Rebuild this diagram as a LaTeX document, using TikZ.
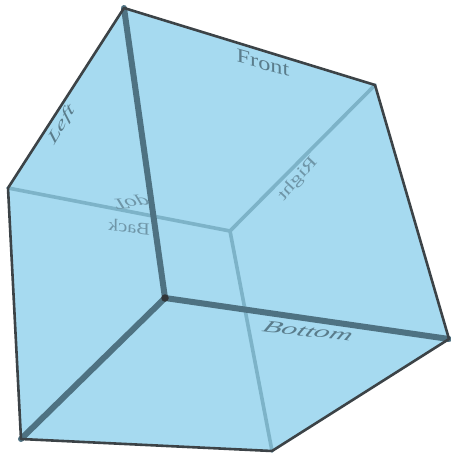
\documentclass[tikz,border=0pt]{standalone}
\usepackage{fontspec}
\setmainfont{Liberation Serif}
\definecolor{cubefill}{HTML}{A6DAF0}
\definecolor{rimcol}{HTML}{3C4347}
\definecolor{frontcol}{HTML}{4E7282}
\definecolor{backcol}{HTML}{7DB3C8}
\definecolor{fronttext}{HTML}{5A7C8B}
\definecolor{backtext}{HTML}{6F96A8}
\tikzset{
  corner/.style={inner sep=0pt,minimum size=0pt},
  rim/.style={draw=rimcol,line width=2.6pt,line cap=round,line join=round},
  frontedge/.style={draw=frontcol,line width=6pt,line cap=round},
  backedge/.style={draw=backcol,line width=3.6pt,line cap=round},
  hub/.style={circle,fill=#1,inner sep=0pt,minimum size=7.5pt},
  facelabel/.style={inner sep=0pt,text=#1,transform shape},
}
\begin{document}
\begin{tikzpicture}[x=1pt,y=-1pt]
\useasboundingbox (0,0) rectangle (450,454);
\coordinate (A) at (124,8);
\coordinate (B) at (375,85);
\coordinate (C) at (449,339);
\coordinate (D) at (272,451);
\coordinate (E) at (21,439);
\coordinate (F) at (8,188);
\coordinate (G) at (165,298);
\coordinate (H) at (230,231);
\fill[cubefill] (A)--(B)--(C)--(D)--(E)--(F)--cycle;
\draw[backedge] (H)--(F);
\draw[backedge] (H)--(B);
\draw[backedge] (H)--(D);
\node[facelabel=backtext] (back) at (129,227)
  [cm={-1.35,0.17,0,1.15,(0,0)}] {\fontsize{15}{15}\selectfont Back};
\node[facelabel=backtext] (top) at (131,202)
  [cm={1.75,0.12,0.35,-1.1,(0,0)}] {\fontsize{14}{14}\itshape\selectfont Top};
\node[facelabel=backtext] (right) at (298,179)
  [cm={-1.1,-1.25,-0.85,0.8,(0,0)}] {\fontsize{14}{14}\selectfont Right};
\draw[frontedge] (A)--(G);
\draw[frontedge] (G)--(C);
\draw[frontedge] (G)--(E);
\node[hub=rimcol!80!black] (ghub) at (G) {};
\draw[rim] (A)--(B)--(C)--(D)--(E)--(F)--cycle;
\node[facelabel=fronttext] (front) at (263,63)
  [cm={1.35,-0.38,0,1.1,(0,0)}] {\fontsize{18}{18}\selectfont Front};
\node[facelabel=fronttext] (bottom) at (308,331)
  [cm={2.2,-0.25,0.55,1.15,(0,0)}] {\fontsize{14}{14}\itshape\selectfont Bottom};
\node[facelabel=fronttext] (left) at (62,125)
  [cm={0.95,1.65,-0.75,0.85,(0,0)}] {\fontsize{14}{14}\itshape\selectfont Left};
\end{tikzpicture}
\end{document}
